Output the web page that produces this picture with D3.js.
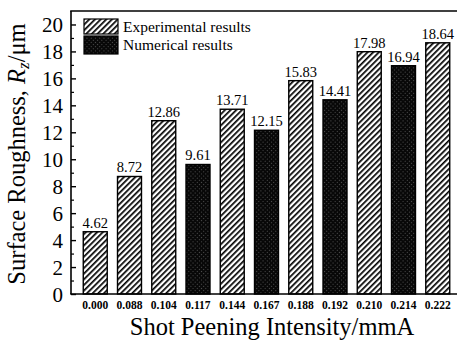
<!DOCTYPE html>
<html><head><meta charset="utf-8">
<script src="https://cdn.jsdelivr.net/npm/d3@7"></script>
<style>body{margin:0;background:#fff}svg{display:block}svg text{font-family:"Liberation Serif","Times New Roman","DejaVu Serif",serif !important}</style>
</head><body>
<script>
const categories = ["0.000","0.088","0.104","0.117","0.144","0.167","0.188","0.192","0.210","0.214","0.222"];
const values = [4.62,8.72,12.86,9.61,13.71,12.15,15.83,14.41,17.98,16.94,18.64];
const seriesOf = ["exp","exp","exp","num","exp","num","exp","num","exp","num","exp"];
const seriesNames = {exp:"Experimental results", num:"Numerical results"};
const yTicks = [0,2,4,6,8,10,12,14,16,18,20];
const yMinor = [1,3,5,7,9,11,13,15,17,19];

const W=457,H=343;
const svg=d3.select("body").append("svg").attr("width",W).attr("height",H);
const defs=svg.append("defs");
const pe=defs.append("pattern").attr("id","hatch").attr("patternUnits","userSpaceOnUse")
  .attr("width",4).attr("height",4).attr("patternTransform","rotate(45)");
pe.append("rect").attr("width",4).attr("height",4).attr("fill","#fff");
pe.append("rect").attr("x",0).attr("width",1.7).attr("height",4).attr("fill","#000");
const pn=defs.append("pattern").attr("id","dots").attr("patternUnits","userSpaceOnUse")
  .attr("width",3).attr("height",3).attr("patternTransform","rotate(45)");
pn.append("rect").attr("width",3).attr("height",3).attr("fill","#080808");
pn.append("rect").attr("x",1).attr("y",1).attr("width",0.7).attr("height",0.7).attr("fill","#999");
const fills={exp:"url(#hatch)",num:"url(#dots)"};

const x0=71, x1=462, yb=294, yt=11;
const x=d3.scaleBand().domain(categories).range([x0,x1]).paddingInner(0.3).paddingOuter(0.358);
const y=d3.scaleLinear().domain([0,21]).range([yb,yt]);

const g=svg.append("g");
g.selectAll("rect.bar").data(categories).join("rect").attr("class","bar")
  .attr("x",d=>x(d)).attr("width",x.bandwidth())
  .attr("y",(d,i)=>y(values[i])).attr("height",(d,i)=>yb-y(values[i]))
  .attr("fill",(d,i)=>fills[seriesOf[i]]).attr("stroke","#000").attr("stroke-width",1.4);
g.selectAll("text.val").data(categories).join("text").attr("class","val")
  .attr("x",d=>x(d)+x.bandwidth()/2).attr("y",(d,i)=>y(values[i])-4)
  .attr("text-anchor","middle").attr("font-size",14.5).text((d,i)=>values[i].toFixed(2));

// axes
const ya=svg.append("g").attr("transform",`translate(${x0},0)`)
  .call(d3.axisLeft(y).tickValues(yTicks).tickSize(-5).tickPadding(8).tickFormat(d3.format("d")));
ya.select(".domain").remove();
ya.selectAll("line").attr("stroke","#000").attr("stroke-width",1.4);
ya.selectAll("text").attr("font-size",21).attr("fill","#000").attr("dy","0.34em");
const ym=svg.append("g").attr("transform",`translate(${x0},0)`)
  .call(d3.axisLeft(y).tickValues(yMinor).tickSize(-3).tickFormat(""));
ym.select(".domain").remove();
ym.selectAll("line").attr("stroke","#000").attr("stroke-width",1.2);

const xa=svg.append("g").attr("transform",`translate(0,${yb})`)
  .call(d3.axisBottom(x).tickSize(0).tickPadding(7));
xa.select(".domain").remove();
xa.selectAll("text").attr("font-size",11.5).attr("font-weight","bold").attr("fill","#000");

// frame
svg.append("line").attr("x1",x0).attr("x2",x0).attr("y1",yt).attr("y2",yb).attr("stroke","#000").attr("stroke-width",1.6);
svg.append("line").attr("x1",x0-0.8).attr("x2",W).attr("y1",yb).attr("y2",yb).attr("stroke","#000").attr("stroke-width",1.6);
svg.append("line").attr("x1",x0-0.8).attr("x2",W).attr("y1",yt).attr("y2",yt).attr("stroke","#000").attr("stroke-width",1.4);

// legend
const leg=[{k:"exp",y:19,h:15},{k:"num",y:36,h:18}];
leg.forEach(l=>{
  svg.append("rect").attr("x",84).attr("y",l.y).attr("width",34).attr("height",l.h)
    .attr("fill",fills[l.k]).attr("stroke","#000").attr("stroke-width",1.2);
  svg.append("text").attr("x",123).attr("y",l.y+l.h/2+5).attr("font-size",15.5).text(seriesNames[l.k]);
});

// titles
svg.append("text").attr("x",272).attr("y",335).attr("text-anchor","middle").attr("font-size",24.5)
  .text("Shot Peening Intensity/mmA");
const yt2=svg.append("text").attr("transform","translate(25,154) rotate(-90)").attr("text-anchor","middle").attr("font-size",24.5);
yt2.append("tspan").text("Surface Roughness, ");
yt2.append("tspan").attr("font-style","italic").text("R");
yt2.append("tspan").attr("font-style","italic").attr("font-size",17).attr("dy",4).text("z");
yt2.append("tspan").attr("dy",-4).text("/μm");
</script>
</body></html>
